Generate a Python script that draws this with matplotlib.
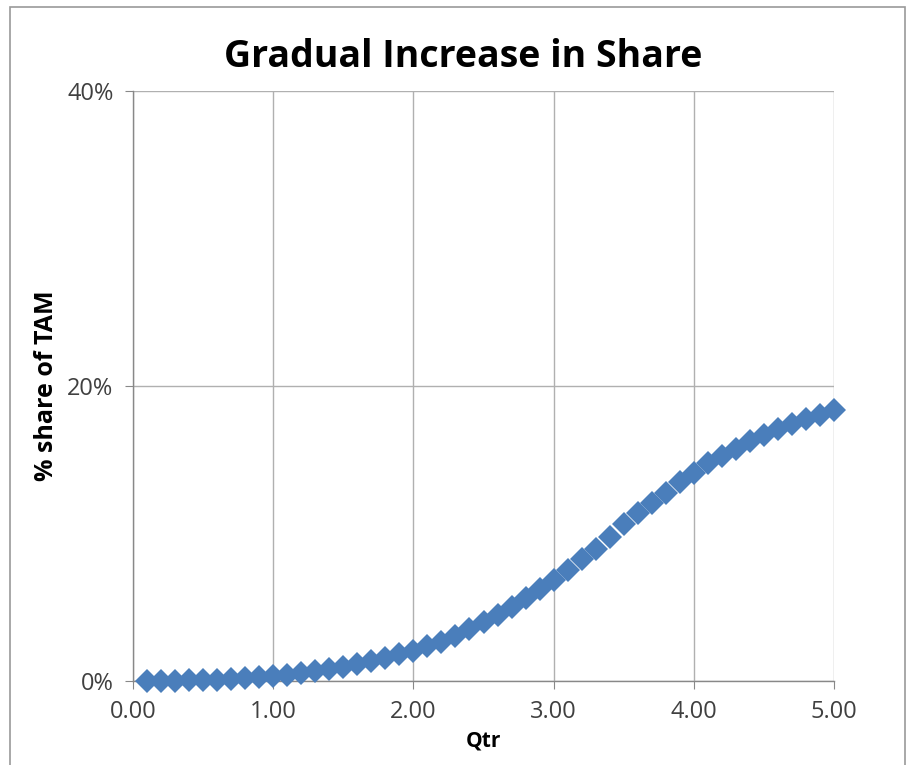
import matplotlib
matplotlib.use("Agg")
import matplotlib.pyplot as plt
from matplotlib.patches import Rectangle
from matplotlib.ticker import FuncFormatter

qtr = [0.1, 0.2, 0.3, 0.4, 0.5, 0.6, 0.7, 0.8, 0.9, 1.0,
       1.1, 1.2, 1.3, 1.4, 1.5, 1.6, 1.7, 1.8, 1.9, 2.0,
       2.1, 2.2, 2.3, 2.4, 2.5, 2.6, 2.7, 2.8, 2.9, 3.0,
       3.1, 3.2, 3.3, 3.4, 3.5, 3.6, 3.7, 3.8, 3.9, 4.0,
       4.1, 4.2, 4.3, 4.4, 4.5, 4.6, 4.7, 4.8, 4.9, 5.0]
share_pct = [0.00, 0.02, 0.03, 0.05, 0.07, 0.10, 0.14, 0.19, 0.25, 0.32,
             0.42, 0.53, 0.66, 0.80, 0.97, 1.15, 1.36, 1.57, 1.80, 2.03,
             2.35, 2.66, 3.08, 3.50, 4.00, 4.47, 5.03, 5.60, 6.25, 6.85,
             7.55, 8.25, 8.98, 9.78, 10.65, 11.38, 12.10, 12.75, 13.50, 14.10,
             14.75, 15.23, 15.75, 16.25, 16.70, 17.10, 17.45, 17.75, 18.05, 18.40]
x_ticks = [0, 1, 2, 3, 4, 5]
y_ticks = [0, 20, 40]

title = "Gradual Increase in Share"
x_label = "Qtr"
y_label = "% share of TAM"

plt.rcParams["font.family"] = ["Open Sans", "DejaVu Sans"]

fig = plt.figure(figsize=(9.13, 7.65), dpi=100)
fig.patch.set_facecolor("white")
fig.add_artist(Rectangle((10 / 913, -0.01), 895 / 913, 1 - 7 / 765 + 0.01,
                         transform=fig.transFigure, fill=False,
                         edgecolor="#9a9a9a", linewidth=1.2))

ax = fig.add_axes([133 / 913, 1 - 681 / 765, (834 - 133) / 913, (681 - 91) / 765])
ax.plot(qtr, share_pct, linestyle="none", marker="D", markersize=12,
        color="#4A7EBB", markeredgewidth=0, zorder=3, clip_on=False)

ax.set_xlim(0, 5)
ax.set_ylim(0, 40)
ax.set_xticks(x_ticks)
ax.set_yticks(y_ticks)
ax.xaxis.set_major_formatter(FuncFormatter(lambda v, p: f"{v:.2f}"))
ax.yaxis.set_major_formatter(FuncFormatter(lambda v, p: f"{v:.0f}%"))
ax.grid(True, color="#b0b0b0", linewidth=1)
ax.set_axisbelow(True)
for s in ["top", "right"]:
    ax.spines[s].set_visible(False)
for s in ["left", "bottom"]:
    ax.spines[s].set_color("#888888")
    ax.spines[s].set_linewidth(1)
ax.tick_params(axis="both", direction="out", length=6, color="#888888",
               labelsize=17, labelcolor="#404040", pad=8)

ax.set_xlabel(x_label, fontsize=15, fontweight="bold", labelpad=4)
ax.set_ylabel(y_label, fontsize=18, fontweight="bold", labelpad=6)
fig.text(463 / 913, 1 - 57 / 765, title, fontsize=27, fontweight="bold",
         ha="center", va="center")

fig.savefig("out.png", dpi=100, facecolor="white")
